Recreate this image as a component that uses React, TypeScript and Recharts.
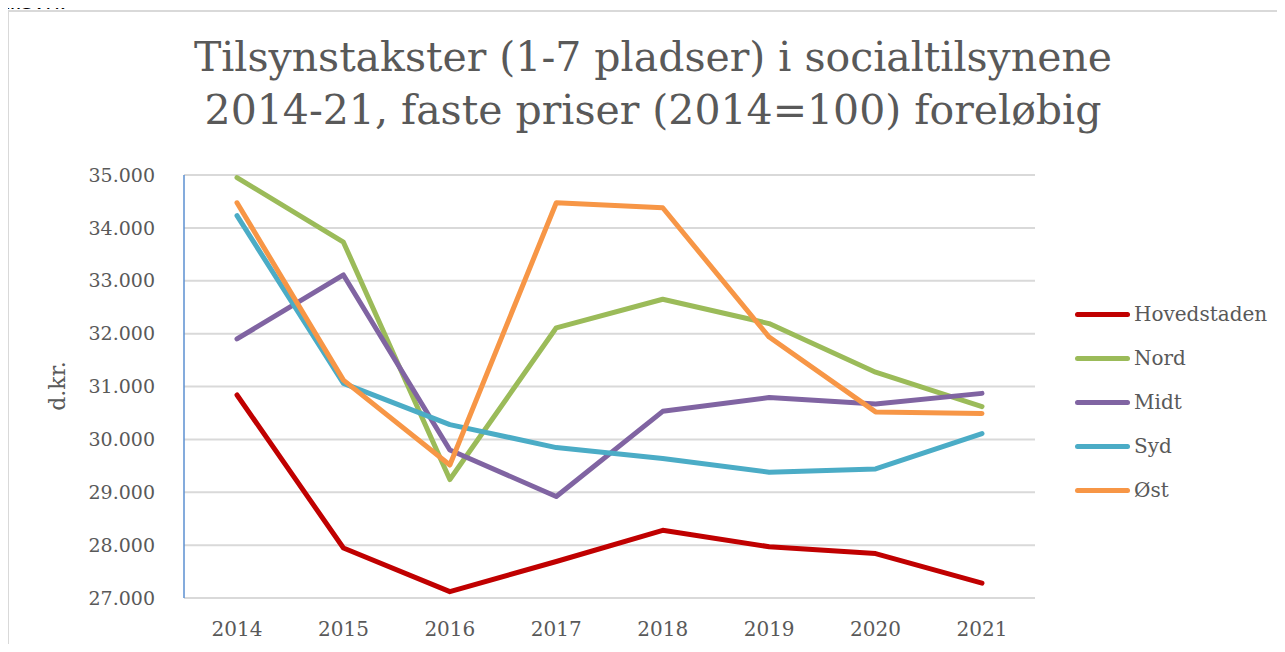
import { LineChart, Line, XAxis, YAxis, CartesianGrid } from "recharts";

const years = ["2014", "2015", "2016", "2017", "2018", "2019", "2020", "2021"];
const hovedstaden = [30840, 27945, 27120, 27690, 28280, 27970, 27840, 27280];
const nord = [34950, 33730, 29240, 32110, 32650, 32190, 31270, 30620];
const midt = [31900, 33110, 29800, 28920, 30530, 30790, 30670, 30870];
const syd = [34230, 31060, 30280, 29845, 29640, 29380, 29440, 30110];
const oest = [34475, 31120, 29515, 34475, 34380, 31935, 30520, 30490];
const yTicks = [27000, 28000, 29000, 30000, 31000, 32000, 33000, 34000, 35000];

const series = [
  { key: "Hovedstaden", values: hovedstaden, color: "#C00000" },
  { key: "Nord", values: nord, color: "#9BBB59" },
  { key: "Midt", values: midt, color: "#8064A2" },
  { key: "Syd", values: syd, color: "#4BACC6" },
  { key: "Øst", values: oest, color: "#F79646" },
];

const data = years.map((year, i) => {
  const row: Record<string, string | number> = { year };
  series.forEach((s) => (row[s.key] = s.values[i]));
  return row;
});

const FONT = "'DejaVu Serif', serif";
const GREY = "#595959";

// 35000 -> "35.000"
const fmt = (v: number) => String(v).replace(/\B(?=(\d{3})+(?!\d))/g, ".");

// legend sits outside the svg so it doesn't eat into the plot area
function LegendBox() {
  return (
    <div style={{ position: "absolute", left: 1075, top: 292, fontFamily: FONT, fontSize: 20, color: GREY }}>
      {series.map((s) => (
        <div key={s.key} style={{ display: "flex", alignItems: "center", height: 44 }}>
          <span style={{ display: "inline-block", width: 55, height: 5, borderRadius: 3, background: s.color, marginRight: 4 }} />
          <span>{s.key}</span>
        </div>
      ))}
    </div>
  );
}

export default function App() {
  return (
    <div style={{ position: "relative", width: 1285, height: 652, margin: -8, overflow: "hidden", background: "#fff" }}>
      <div style={{ position: "absolute", left: 7, top: 10, width: 1300, height: 700, border: "2px solid #d9d9d9" }} />
      {/* tail of the paragraph above the chart, only its lower part shows, like in the source */}
      <div style={{ position: "absolute", left: 0, top: 0, width: 120, height: 9, overflow: "hidden", zIndex: 2 }}>
        <div
          style={{
            position: "absolute", left: 1, bottom: -3, fontFamily: "'Open Sans', sans-serif",
            fontSize: 24, lineHeight: "24px", color: "#000", whiteSpace: "nowrap",
          }}
        >
          tilsyn.
        </div>
      </div>
      <div
        style={{
          position: "absolute", left: 8, top: 31, width: 1290, textAlign: "center",
          fontFamily: FONT, fontSize: 41, lineHeight: "53px", color: GREY,
        }}
      >
        Tilsynstakster (1-7 pladser) i socialtilsynene
        <br />
        2014-21, faste priser (2014=100) foreløbig
      </div>
      <div
        style={{
          position: "absolute", left: 57, top: 386, transform: "translate(-50%, -50%) rotate(-90deg)",
          fontFamily: FONT, fontSize: 22, color: GREY, whiteSpace: "nowrap",
        }}
      >
        d.kr.
      </div>
      <div style={{ position: "absolute", left: 0, top: 0 }}>
        <LineChart width={1285} height={652} data={data} margin={{ top: 175, right: 250, bottom: 0, left: 84 }}>
          <CartesianGrid vertical={false} stroke="#d9d9d9" strokeWidth={2} />
          <XAxis
            dataKey="year"
            padding={{ left: 53, right: 53 }}
            axisLine={{ stroke: "#d9d9d9", strokeWidth: 2 }}
            tickLine={false}
            tickSize={0}
            tickMargin={24}
            height={54}
            tick={{ fill: GREY, fontFamily: FONT, fontSize: 20 }}
            interval={0}
          />
          <YAxis
            width={100}
            domain={[27000, 35000]}
            ticks={yTicks}
            tickFormatter={fmt}
            axisLine={{ stroke: "#5b8fd0", strokeWidth: 1.5 }}
            tickLine={false}
            tickSize={0}
            tickMargin={29}
            tick={{ fill: GREY, fontFamily: FONT, fontSize: 19 }}
            interval={0}
          />
          {series.map((s) => (
            <Line
              key={s.key}
              dataKey={s.key}
              stroke={s.color}
              strokeWidth={5}
              dot={false}
              activeDot={false}
              strokeLinecap="round"
              strokeLinejoin="round"
              isAnimationActive={false}
            />
          ))}
        </LineChart>
      </div>
      <LegendBox />
    </div>
  );
}
